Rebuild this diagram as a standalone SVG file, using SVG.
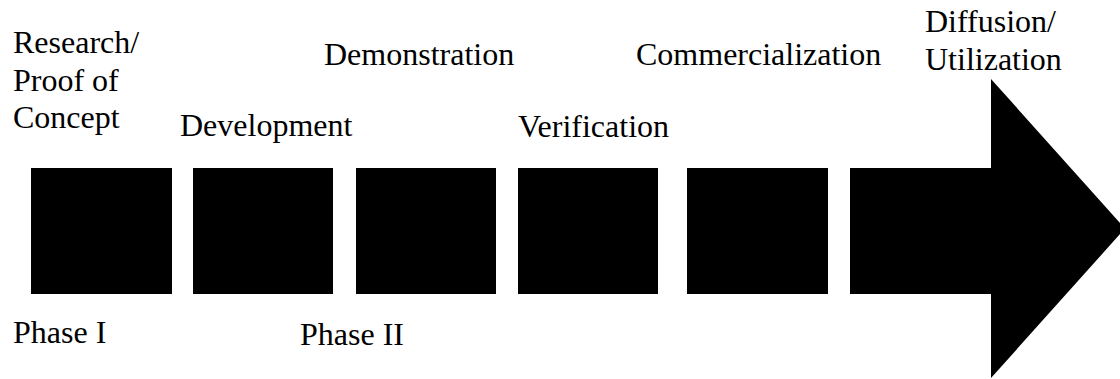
<svg xmlns="http://www.w3.org/2000/svg" width="1120" height="379" viewBox="0 0 1120 379">
<style>
.lbl{font-family:'Times New Roman','Liberation Serif','DejaVu Serif',serif;font-size:32px;fill:#000}
.blk{fill:#000}
</style>
<rect width="1120" height="379" fill="#fff"/>
<g id="box1"><rect class="blk" x="31" y="168" width="141" height="126"/></g>
<g id="box2"><rect class="blk" x="193" y="168" width="140" height="126"/></g>
<g id="box3"><rect class="blk" x="356" y="168" width="140" height="126"/></g>
<g id="box4"><rect class="blk" x="518" y="168" width="140" height="126"/></g>
<g id="box5"><rect class="blk" x="687" y="168" width="141" height="126"/></g>
<g id="arrow"><polygon class="blk" points="850,168 991,168 991,79 1125,228.5 991,378 991,294 850,294"/></g>
<g id="connectors"></g>
<g id="labels">
<text class="lbl" x="13" y="53">Research/</text>
<text class="lbl" x="13" y="91">Proof of</text>
<text class="lbl" x="13" y="128">Concept</text>
<text class="lbl" x="180" y="136">Development</text>
<text class="lbl" x="324" y="65">Demonstration</text>
<text class="lbl" x="518" y="137">Verification</text>
<text class="lbl" x="636" y="65">Commercialization</text>
<text class="lbl" x="925" y="32">Diffusion/</text>
<text class="lbl" x="925" y="70">Utilization</text>
<text class="lbl" x="13" y="343">Phase I</text>
<text class="lbl" x="300" y="345">Phase II</text>
</g>
</svg>
